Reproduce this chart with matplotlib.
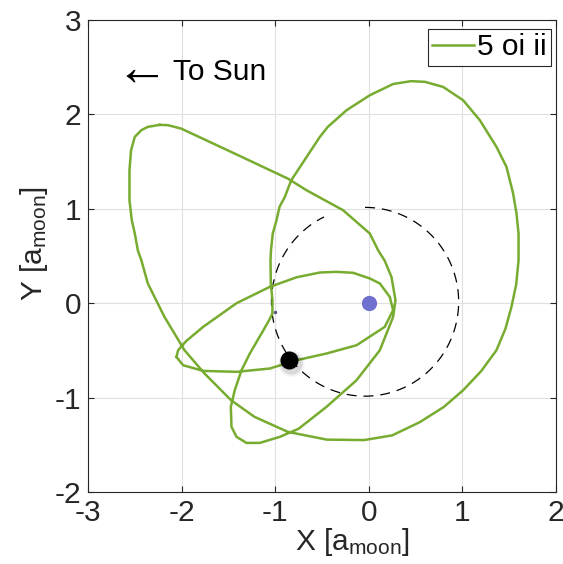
import numpy as np
import matplotlib
matplotlib.use("Agg")
import matplotlib.pyplot as plt

plt.rcParams['font.family'] = ['Liberation Sans', 'DejaVu Sans']
plt.rcParams['mathtext.fontset'] = 'custom'
plt.rcParams['mathtext.rm'] = 'Liberation Sans'
plt.rcParams['mathtext.it'] = 'Liberation Sans:italic'
plt.rcParams['axes.unicode_minus'] = False
plt.rcParams['font.size'] = 21.5

# trajectory in the rotating frame, units of the lunar semi-major axis
orbit_x = [-2.236, -2.361, -2.43, -2.50, -2.54, -2.557, -2.557, -2.532, -2.50, -2.468,
           -2.43, -2.361, -2.183, -1.969, -1.755, -1.471, -1.221, -0.865, -0.45, -0.05,
           0.25, 0.545, 0.80, 1.008, 1.20, 1.364, 1.46, 1.524, 1.575, 1.60,
           1.60, 1.578, 1.542, 1.471, 1.364, 1.186, 1.008, 0.794, 0.60, 0.45, 0.26,
           0.011, -0.238, -0.438, -0.523, -0.687, -0.83, -0.897, -0.954, -0.986, -1.026,
           -1.045, -1.05, -1.047, -1.029, -1.03, -1.06, -1.126, -1.271, -1.36, -1.432,
           -1.474, -1.467, -1.413, -1.307, -1.165, -0.951, -0.75, -0.452, -0.131, 0.118,
           0.26, 0.285, 0.242, 0.17, 0.10, 0.011, -0.275, -0.666, -0.865, -1.435,
           -2.005, -2.147, -2.236]
orbit_y = [1.889, 1.868, 1.833, 1.762, 1.62, 1.409, 1.09, 0.879, 0.738, 0.561,
           0.455, 0.209, -0.145, -0.498, -0.745, -1.028, -1.204, -1.363, -1.445, -1.45,
           -1.40, -1.26, -1.10, -0.922, -0.72, -0.498, -0.27, -0.039, 0.2, 0.455,
           0.738, 0.95, 1.162, 1.444, 1.656, 1.939, 2.15, 2.291, 2.345, 2.352, 2.322,
           2.203, 2.044, 1.868, 1.762, 1.515, 1.30, 1.126, 1.02, 0.879, 0.738,
           0.561, 0.455, 0.209, 0.032, -0.11, -0.17, -0.286, -0.533, -0.71, -0.922,
           -1.098, -1.31, -1.416, -1.48, -1.48, -1.416, -1.33, -1.098, -0.816, -0.498,
           -0.145, 0.032, 0.279, 0.45, 0.56, 0.738, 0.985, 1.197, 1.32, 1.586,
           1.85, 1.886, 1.889]

loop_x = [-2.055, -2.037, -1.95, -1.77, -1.413, -1.058, -0.77, -0.523, -0.345, -0.168,
          0.011, 0.118, 0.224, 0.26, 0.17, -0.13, -0.452, -0.772, -1.058, -1.413,
          -1.77, -1.984, -2.055]
loop_y = [-0.569, -0.498, -0.40, -0.251, 0.0, 0.173, 0.275, 0.325, 0.332, 0.322,
          0.262, 0.209, 0.067, -0.074, -0.251, -0.445, -0.533, -0.604, -0.692, -0.727,
          -0.717, -0.657, -0.569]

# lunar orbit (dashed arc) and bodies
moon_orbit_center = (-0.04, 0.015)
moon_orbit_radius = 1.0
moon_orbit_span = (90, -244)  # degrees
earth_pos = (0.0, 0.0)
moon_pos = (-0.855, -0.604)
start_pos = (-1.0, -0.09)

fig = plt.figure(figsize=(5.63, 5.64), dpi=100)
ax = fig.add_axes([88 / 563, 72 / 564, 468 / 563, 472 / 564])

th = np.radians(np.linspace(moon_orbit_span[0], moon_orbit_span[1], 400))
ax.plot(moon_orbit_center[0] + moon_orbit_radius * np.cos(th),
        moon_orbit_center[1] + moon_orbit_radius * np.sin(th),
        color='k', lw=0.9, linestyle=(0, (8, 5.5)), zorder=2)

traj_x = orbit_x + [np.nan] + loop_x
traj_y = orbit_y + [np.nan] + loop_y
ax.plot(traj_x, traj_y, color='#77AC30', lw=1.8, label='5 oi ii', zorder=3)

ax.plot(*earth_pos, 'o', ms=11, color='#7070cf', mec='none', zorder=4)
ax.plot(*start_pos, 'o', ms=2.5, color='#55557f', mec='none', zorder=4)
# soft shadow under the moon marker
for ms, a in [(19, 0.05), (16, 0.10)]:
    ax.plot(moon_pos[0] + 0.02, moon_pos[1] - 0.025, 'o', ms=ms, color='k',
            alpha=a, mec='none', zorder=4)
ax.plot(*moon_pos, 'o', ms=13, color='k', mec='none', zorder=5)

ax.text(-2.80, 2.475, r'$\leftarrow$', ha='left', va='center', fontsize=38)
ax.text(-2.09, 2.45, 'To Sun', ha='left', va='center')

ax.set_xlim(-3, 2)
ax.set_ylim(-2, 3)
ax.set_xticks([-3, -2, -1, 0, 1, 2])
ax.set_yticks([-2, -1, 0, 1, 2, 3])
ax.grid(True, color='#e0e0e0', lw=0.8)
ax.set_axisbelow(True)
for s in ax.spines.values():
    s.set_color('#262626')
    s.set_linewidth(0.8)
ax.tick_params(direction='in', length=4, width=0.8, color='#262626',
               top=True, right=True, pad=5, labelcolor='#262626')

ax.set_xlabel(r'X [a$_{\mathrm{moon}}$]', color='#262626')
ax.set_ylabel(r'Y [a$_{\mathrm{moon}}$]', color='#262626')
ax.xaxis.set_label_coords(0.564, -0.072)
ax.yaxis.set_label_coords(-0.082, 0.527)

leg = ax.legend(loc='upper right', bbox_to_anchor=(1 - 5 / 468, 1 - 9 / 472),
                borderaxespad=0, fancybox=False, framealpha=1,
                handlelength=1.4, handletextpad=0.1, borderpad=0.15)
leg.get_frame().set_edgecolor('#262626')
leg.get_frame().set_linewidth(0.8)

fig.savefig('out.png', dpi=100)
